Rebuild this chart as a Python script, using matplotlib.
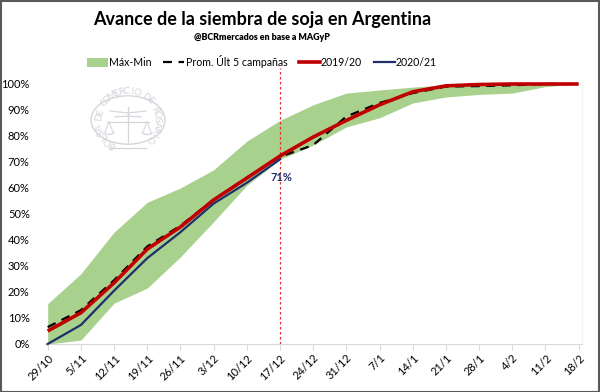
import numpy as np
import matplotlib
matplotlib.use("Agg")
import matplotlib.pyplot as plt
from matplotlib import font_manager
from matplotlib.patches import Patch, Rectangle, Circle, Arc
from matplotlib.lines import Line2D

# ---------------- data ----------------
fechas = ["29/10", "5/11", "12/11", "19/11", "26/11", "3/12", "10/12", "17/12",
          "24/12", "31/12", "7/1", "14/1", "21/1", "28/1", "4/2", "11/2", "18/2"]
maximo = [15.5, 27, 43, 54.5, 60, 67, 78, 86, 92, 96.5, 97.7, 98.8, 99.7, 100, 100, 100, 100]
minimo = [0, 1.5, 15.7, 21.5, 33.5, 47, 61, 71, 76.5, 83.5, 87, 92.7, 95, 96, 96.5, 99, 100]
promedio = [6.5, 13, 24.5, 37.5, 45.5, 55.5, 64, 72, 76.5, 87.5, 92.7, 96.5, 99, 99.2, 99.5, 100, 100]
c2019_20 = [5, 12, 23.5, 36.5, 45, 55.4, 63.8, 72.3, 79.6, 86, 92, 97, 99.3, 99.8, 100, 100, 100]
c2020_21 = [0, 7.3, 20.5, 33, 43, 54, 62, 71]
etiqueta = "71%"

# ---------------- fonts ----------------
avail = {f.name for f in font_manager.fontManager.ttflist}
body_font = "Lato" if "Lato" in avail else "DejaVu Sans"
plt.rcParams["font.family"] = [body_font, "DejaVu Sans"]

fig = plt.figure(figsize=(6.0, 3.92), dpi=100)
W, H = 600, 392
ax = fig.add_axes([45 / W, (H - 344) / H, (582 - 45) / W, (344 - 84) / H])

x = np.arange(len(fechas))
mx = np.array(maximo) / 100
mn = np.array(minimo) / 100
ax.fill_between(x, mn, mx, color="#a9d18e", linewidth=0, zorder=1)
ax.plot(x, np.array(promedio) / 100, color="black", lw=1.6, dashes=(4, 3), zorder=3, clip_on=False)
ax.plot(x, np.array(c2019_20) / 100, color="#c00000", lw=2.6, zorder=4, clip_on=False,
        solid_capstyle="butt")
x2 = np.arange(len(c2020_21))
ax.plot(x2, np.array(c2020_21) / 100, color="#1f2f6b", lw=1.6, zorder=5, clip_on=False)
ax.text(x2[-1] + 0.05, c2020_21[-1] / 100 - 0.07, etiqueta, color="#1f2f6b",
        fontsize=8, fontweight="bold", ha="center", va="center", zorder=6)

# vertical reference line at 17/12
ax.plot([7, 7], [0, 1.06], color="#e03030", lw=0.9, ls=(0, (2, 2)), clip_on=False, zorder=2)

ax.set_xlim(-0.08, 16.1)
ax.set_ylim(0, 1.0)
ax.set_yticks(np.arange(0, 1.01, 0.1))
ax.set_yticklabels([f"{int(round(v*100))}%" for v in np.arange(0, 1.01, 0.1)], fontsize=8)
ax.set_xticks(x)
ax.set_xticklabels(fechas, rotation=45, ha="right", rotation_mode="anchor", fontsize=8)
for s in ["top", "left"]:
    ax.spines[s].set_visible(False)
ax.spines["bottom"].set_color("#d9d9d9")
ax.spines["right"].set_color("#f2f2f2")
ax.tick_params(axis="y", length=0, pad=11, colors="black")
ax.tick_params(axis="x", length=4, color="#d9d9d9", pad=2)

# title
fig.text(262 / W, 1 - 20 / H, "Avance de la siembra de soja en Argentina",
         fontsize=13, fontweight="bold", ha="center", va="center")
fig.text(262 / W, 1 - 38 / H, "@BCRmercados en base a MAGyP", fontsize=6.4,
         fontweight="heavy", ha="center", va="center")

handles = [Patch(facecolor="#a9d18e", edgecolor="none"),
           Line2D([], [], color="black", lw=1.6, dashes=(4, 3)),
           Line2D([], [], color="#c00000", lw=2.6),
           Line2D([], [], color="#1f2f6b", lw=1.6)]
labels = ["Máx-Min", "Prom. Últ 5 campañas", "2019/20", "2020/21"]
fig.legend(handles, labels, loc="center", bbox_to_anchor=(262 / W, 1 - 62 / H), ncol=4,
           frameon=False, fontsize=7.6, handlelength=2.0, handletextpad=0.1,
           columnspacing=1.1, handleheight=0.9)

# faint watermark (Bolsa de Comercio de Rosario seal)
cx, cy, r = 128, 120, 37
wc = "#d3d6db"
def P(px, py):
    return px / W, 1 - py / H
def seg(x0, y0, x1, y1, lw=0.9):
    a, b = P(x0, y0)
    c, d = P(x1, y1)
    fig.lines.append(Line2D([a, c], [b, d], transform=fig.transFigure, color=wc, lw=lw))

fig.patches.append(Circle(P(cx, cy), r / W, transform=fig.transFigure,
                          fill=False, ec=wc, lw=1.0))
txt = "BOLSA DE COMERCIO DE ROSARIO"
angs = np.linspace(236, -40, len(txt))
for ch, a in zip(txt, angs):
    rr = r - 8
    px = cx + rr * np.cos(np.radians(a))
    py = cy - rr * np.sin(np.radians(a))
    fig.text(*P(px, py), ch, fontsize=7, color=wc, rotation=a - 90,
             ha="center", va="center", rotation_mode="anchor")
# caduceus staff and wings
seg(cx, cy - 13, cx, cy + 22)
for sgn in (-1, 1):
    seg(cx, cy - 7, cx + sgn * 18, cy - 9)
    seg(cx, cy - 4, cx + sgn * 13, cy - 3)
# scales
seg(cx - 21, cy + 2, cx + 21, cy + 2)
for sx in (cx - 19, cx + 19):
    seg(sx, cy + 2, sx - 4, cy + 12, 0.7)
    seg(sx, cy + 2, sx + 4, cy + 12, 0.7)
    fig.patches.append(Arc(P(sx, cy + 12), 10 / W, 5 / H, theta1=180, theta2=360,
                           transform=fig.transFigure, color=wc, lw=0.9))
seg(cx - 18, cy + 28, cx + 18, cy + 28)

# figure border
fig.patches.append(Rectangle((0.001, 0.001), 0.997, 0.996, transform=fig.transFigure,
                             fill=False, ec="#595959", lw=1.5))

fig.savefig("out.png", dpi=100)
